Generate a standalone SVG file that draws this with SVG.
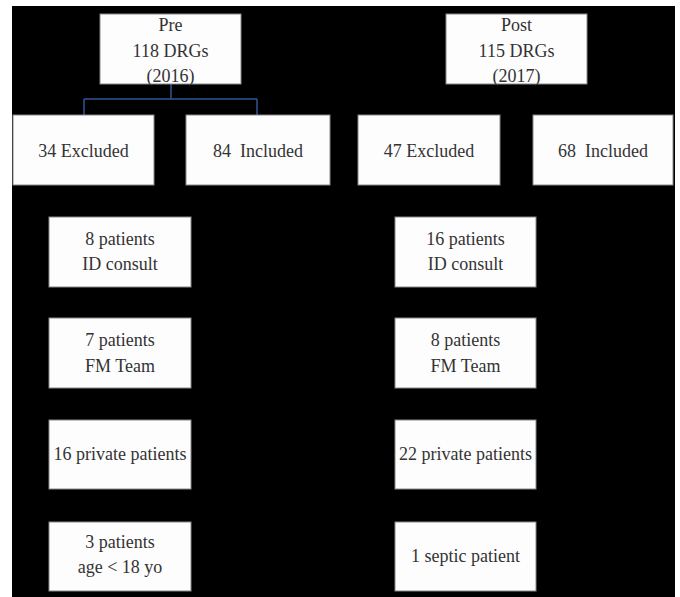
<svg xmlns="http://www.w3.org/2000/svg" width="680" height="597" viewBox="0 0 680 597">
<style>
.bg{fill:#000}
.box{fill:#fdfdfd;stroke:#888;stroke-width:1}
.t{font-family:"Liberation Serif","Times New Roman",serif;font-size:18px;fill:#333;text-anchor:middle;white-space:pre}
.c{fill:none;stroke:#2f5597;stroke-width:1.5}
</style>
<rect x="0" y="0" width="680" height="597" fill="#fff"/>
<rect class="bg" x="12" y="6" width="663" height="591"/>
<g id="connectors">
<path class="c" d="M171,84 V99 M84,99 H257 M84,99 V115 M257,99 V115"/>
</g>
<g id="pre"><rect class="box" x="100" y="14" width="141" height="70"/>
<text class="t" x="170.5" y="31">Pre</text><text class="t" x="170.5" y="57">118 DRGs</text><text class="t" x="170.5" y="82">(2016)</text></g>
<g id="post"><rect class="box" x="446" y="14" width="141" height="70"/>
<text class="t" x="516.5" y="31">Post</text><text class="t" x="516.5" y="57">115 DRGs</text><text class="t" x="516.5" y="82">(2017)</text></g>
<g id="pre-excluded"><rect class="box" x="13" y="115" width="141" height="70"/><text class="t" x="83.5" y="157">34 Excluded</text></g>
<g id="pre-included"><rect class="box" x="186" y="115" width="144" height="70"/><text class="t" x="258" y="157" xml:space="preserve">84  Included</text></g>
<g id="post-excluded"><rect class="box" x="358" y="115" width="142" height="70"/><text class="t" x="429" y="157">47 Excluded</text></g>
<g id="post-included"><rect class="box" x="533" y="115" width="140" height="70"/><text class="t" x="603" y="157" xml:space="preserve">68  Included</text></g>
<g id="pre-id"><rect class="box" x="49" y="217" width="142" height="70"/><text class="t" x="120" y="245">8 patients</text><text class="t" x="120" y="270">ID consult</text></g>
<g id="pre-fm"><rect class="box" x="49" y="318" width="142" height="70"/><text class="t" x="120" y="346">7 patients</text><text class="t" x="120" y="372">FM Team</text></g>
<g id="pre-private"><rect class="box" x="49" y="420" width="142" height="69"/><text class="t" x="120" y="460">16 private patients</text></g>
<g id="pre-age"><rect class="box" x="49" y="522" width="142" height="69"/><text class="t" x="120" y="548">3 patients</text><text class="t" x="120" y="573">age &lt; 18 yo</text></g>
<g id="post-id"><rect class="box" x="395" y="217" width="141" height="70"/><text class="t" x="465.5" y="245">16 patients</text><text class="t" x="465.5" y="270">ID consult</text></g>
<g id="post-fm"><rect class="box" x="395" y="318" width="141" height="70"/><text class="t" x="465.5" y="346">8 patients</text><text class="t" x="465.5" y="372">FM Team</text></g>
<g id="post-private"><rect class="box" x="395" y="420" width="141" height="69"/><text class="t" x="465.5" y="460">22 private patients</text></g>
<g id="post-septic"><rect class="box" x="395" y="522" width="141" height="69"/><text class="t" x="465.5" y="562">1 septic patient</text></g>
</svg>
